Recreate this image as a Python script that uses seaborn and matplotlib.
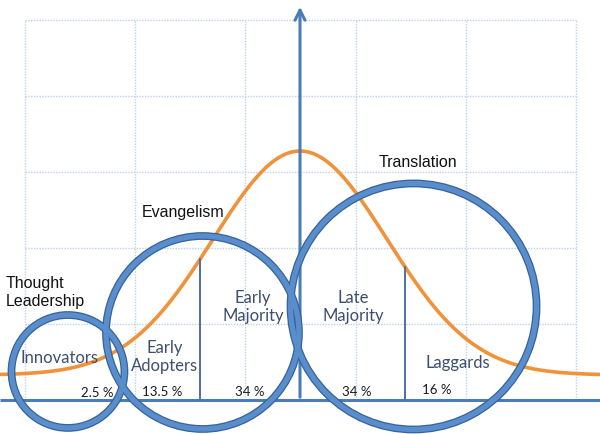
import numpy as np
import pandas as pd
import matplotlib
matplotlib.use("Agg")
import matplotlib.pyplot as plt
from matplotlib.patches import Circle
import seaborn as sns

# ---- data (units: one standard deviation) ----
segments = ["Innovators", "Early\nAdopters", "Early\nMajority", "Late\nMajority", "Laggards"]
shares = ["2.5 %", "13.5 %", "34 %", "34 %", "16 %"]
roles = ["Thought\nLeadership", "Evangelism", "Translation"]
curve_mean = 0.0
curve_sd = 1.0
curve_height = 2.575
curve_base = 0.287
boundaries = [-1.149, 0.0, 1.207]          # segment dividers (0 = main axis)
circle_centers = [(-2.667, 0.328), (-1.121, 0.776), (1.305, 1.075)]
circle_radii = [0.649, 1.109, 1.414]

# ---- layout ----
PX = 87.0                      # pixels per unit
W, H = 600, 435
x0, y0 = 300, 401              # pixel position of origin
xlim = (-x0 / PX, (W - x0) / PX)
ylim = (-(H - y0) / PX, y0 / PX)

seg_pos = [(-2.759, 0.494), (-1.552, 0.506), (-0.540, 1.080), (0.609, 1.080), (1.816, 0.437)]
share_pos = [(-2.333, 0.092), (-1.586, 0.103), (-0.575, 0.103), (0.655, 0.103), (1.575, 0.126)]
role_pos = [(-3.379, 1.247, "left"), (-1.345, 2.161, "center"), (1.356, 2.736, "center")]

sns.set_theme(style="white")
plt.rcParams["font.family"] = ["Liberation Sans", "DejaVu Sans"]

fig = plt.figure(figsize=(W / 100, H / 100), dpi=100)
ax = fig.add_axes([0, 0, 1, 1])

# grid
gx = [(-275 + 110.2 * k) / PX for k in range(6)]
gy = [0.8736 * k for k in range(1, 6)]
gcol = "#bcd2ea"
for x in gx:
    ax.plot([x, x], [0, gy[-1]], color=gcol, lw=1.0, ls=(0, (1, 1)), zorder=1)
for y in gy:
    ax.plot([gx[0], gx[-1]], [y, y], color=gcol, lw=1.0, ls=(0, (1, 1)), zorder=1)

# bell curve
z = np.linspace(xlim[0], xlim[1], 600)
def bell(t):
    return curve_base + curve_height * np.exp(-0.5 * ((t - curve_mean) / curve_sd) ** 2)
df = pd.DataFrame({"z": z, "v": bell(z)})
sns.lineplot(data=df, x="z", y="v", ax=ax, color="#f0923a", lw=2.6, zorder=3)
ax.set_xlim(*xlim)
ax.set_ylim(*ylim)
ax.axis("off")

# x axis
ax.plot(list(xlim), [0, 0], color="#4a7cb8", lw=2.2, zorder=4, solid_capstyle="butt")
# vertical main axis with arrow
ax.annotate("", xy=(0, (y0 - 5) / PX), xytext=(0, 0),
            arrowprops=dict(arrowstyle="->,head_length=0.6,head_width=0.3",
                            color="#4a7cb8", lw=2.2), zorder=4)
# dividers
for b in boundaries:
    if b != 0.0:
        ax.plot([b, b], [0, bell(b)], color="#4f6f9c", lw=1.4, zorder=4)

# circles
for (cx, cy), r in zip(circle_centers, circle_radii):
    ax.add_patch(Circle((cx, cy), r, fill=False, ec="#35639a", lw=5.6, zorder=6))
    ax.add_patch(Circle((cx, cy), r, fill=False, ec="#5a8dcb", lw=3.8, zorder=7))

# text
for s, (x, y) in zip(segments, seg_pos):
    ax.text(x, y, s, ha="center", va="center", fontsize=12, color="#3d4f6e",
            family=["Lato", "DejaVu Sans"], linespacing=1.15, zorder=8)
for s, (x, y) in zip(shares, share_pos):
    ax.text(x, y, s, ha="center", va="center", fontsize=9.5, color="#1a1a1a",
            family=["Lato", "DejaVu Sans"], zorder=8)
for s, (x, y, ha) in zip(roles, role_pos):
    ax.text(x, y, s, ha=ha, va="center", fontsize=11.5, color="#111111",
            linespacing=1.2, zorder=8)

fig.savefig("out.png", dpi=100)
